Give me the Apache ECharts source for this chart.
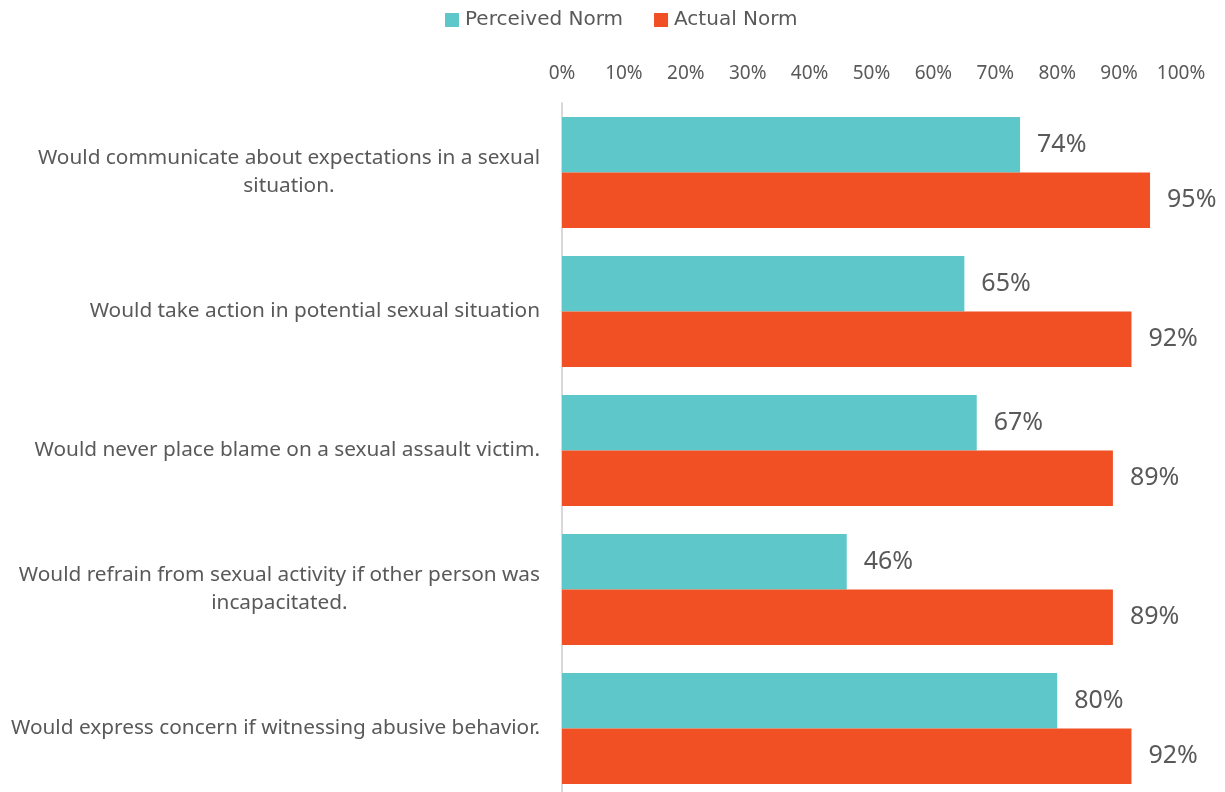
<!DOCTYPE html>
<html>
<head>
<meta charset="utf-8">
<script src="https://cdn.jsdelivr.net/npm/echarts@6/dist/echarts.min.js"></script>
<style>
  html, body { margin: 0; padding: 0; background: #fff; }
  #main { width: 1225px; height: 792px; }
</style>
</head>
<body>
<div id="main"></div>
<script>
// categories, top to bottom (line breaks as wrapped in the original)
var categories = [
    'Would communicate about expectations in a sexual\nsituation.',
    'Would take action in potential sexual situation',
    'Would never place blame on a sexual assault victim.',
    'Would refrain from sexual activity if other person was\nincapacitated.',
    'Would express concern if witnessing abusive behavior.'
];
var perceivedNorm = [74, 65, 67, 46, 80];
var actualNorm = [95, 92, 89, 89, 92];
var seriesNames = ['Perceived Norm', 'Actual Norm'];

var textColor = '#595959';
var font = 'Noto Sans';
var wideFont = 'DejaVu Sans';

var myChart = echarts.init(document.getElementById('main'));
myChart.setOption({
    animation : false,
    legend : {
	data : seriesNames,
	top : 5,
	left : 440,
	itemWidth : 14,
	itemHeight : 14,
	itemGap : 31,
	icon : 'rect',
	textStyle : {
	    color : textColor,
	    fontSize : 20,
	    fontFamily : wideFont,
	    padding : [0, 0, 0, 1]
	}
    },
    grid : {
	left : 562,
	top : 103,
	width : 619,
	height : 695,
	outerBoundsMode : 'none'
    },
    xAxis : {
	type : 'value',
	position : 'top',
	min : 0,
	max : 100,
	interval : 10,
	axisLine : { show : false },
	axisTick : { show : false },
	splitLine : { show : false },
	axisLabel : {
	    formatter : '{value}%',
	    color : textColor,
	    fontSize : 19,
	    fontFamily : font,
	    margin : 20
	}
    },
    yAxis : {
	type : 'category',
	inverse : true,
	data : categories,
	axisLine : { show : true, lineStyle : { color : '#d9d9d9', width : 2 } },
	axisTick : { show : false },
	axisLabel : {
	    margin : 22,
	    lineHeight : 28,
	    formatter : function(v) {
		return v.split('\n').map(function(s) {
		    return '{c|' + s + '}';
		}).join('\n');
	    },
	    rich : {
		c : {
		    align : 'center',
		    color : textColor,
		    fontSize : 20.8,
		    fontFamily : font,
		    lineHeight : 28
		}
	    }
	}
    },
    series : [ {
	name : seriesNames[0],
	type : 'bar',
	data : perceivedNorm,
	barGap : '0%',
	barCategoryGap : '20%',
	itemStyle : { color : '#5dc7ca' },
	label : {
	    show : true,
	    position : 'right',
	    distance : 17,
	    formatter : '{c}%',
	    color : textColor,
	    fontSize : 25,
	    fontFamily : font
	}
    }, {
	name : seriesNames[1],
	type : 'bar',
	data : actualNorm,
	barGap : '0%',
	barCategoryGap : '20%',
	itemStyle : { color : '#f05023' },
	label : {
	    show : true,
	    position : 'right',
	    distance : 17,
	    formatter : '{c}%',
	    color : textColor,
	    fontSize : 25,
	    fontFamily : font
	}
    } ]
});
</script>
</body>
</html>
